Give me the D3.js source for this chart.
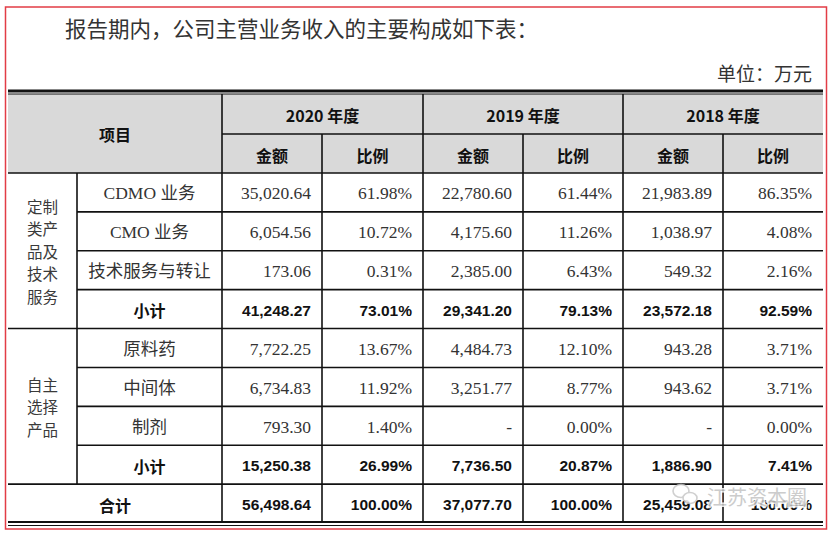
<!DOCTYPE html>
<html><head><meta charset="utf-8">
<script src="https://cdn.jsdelivr.net/npm/d3@7/dist/d3.min.js"></script>
<style>html,body{margin:0;padding:0;background:#fff;}svg{display:block;}</style>
</head><body><div id="chart"></div>
<script>
// ---------- data ----------
const title = "报告期内，公司主营业务收入的主要构成如下表：";
const unitLabel = "单位：万元";
const headerItem = "项目";
const years = ["2020 年度", "2019 年度", "2018 年度"];
const subHeaders = ["金额", "比例"];
const groupLabels = [["定制", "类产", "品及", "技术", "服务"], ["自主", "选择", "产品"]];
const groupSpans = [4, 4];
const items = ["CDMO 业务", "CMO 业务", "技术服务与转让", "小计", "原料药", "中间体", "制剂", "小计", "合计"];
const boldRows = [false, false, false, true, false, false, false, true, true];
const amount2020 = [35020.64, 6054.56, 173.06, 41248.27, 7722.25, 6734.83, 793.30, 15250.38, 56498.64];
const share2020 = [61.98, 10.72, 0.31, 73.01, 13.67, 11.92, 1.40, 26.99, 100.00];
const amount2019 = [22780.60, 4175.60, 2385.00, 29341.20, 4484.73, 3251.77, null, 7736.50, 37077.70];
const share2019 = [61.44, 11.26, 6.43, 79.13, 12.10, 8.77, 0.00, 20.87, 100.00];
const amount2018 = [21983.89, 1038.97, 549.32, 23572.18, 943.28, 943.62, null, 1886.90, 25459.08];
const share2018 = [86.35, 4.08, 2.16, 92.59, 3.71, 3.71, 0.00, 7.41, 100.00];
const watermark = "江苏资本圈";

// ---------- layout ----------
const W = 831, H = 534;
const svg = d3.select("#chart").append("svg").attr("width", W).attr("height", H);
const serif = "'Liberation Serif','Times New Roman','Noto Sans CJK SC',serif";
const sansB = "'Liberation Sans','Noto Sans CJK SC',sans-serif";
const cjk = "'Noto Sans CJK SC',sans-serif";

const colX = [8, 77, 222, 322, 423, 523, 623, 723, 823];
const headTop = 94, headMid = 134, headBot = 173;
const nRows = items.length;
const y = d3.scaleBand().domain(d3.range(nRows)).range([headBot, 523]).paddingInner(0).paddingOuter(0);

const fmtA = d3.format(",.2f");
const fmtP = v => d3.format(".2f")(v) + "%";
const cols = [amount2020, share2020, amount2019, share2019, amount2018, share2018];

// red frame
svg.append("rect").attr("x", 5.5).attr("y", 7).attr("width", 821).attr("height", 522)
  .attr("fill", "none").attr("stroke", "#e23c46").attr("stroke-width", 1.5);

// title & unit
svg.append("text").attr("x", 65).attr("y", 37).text(title)
  .attr("font-family", cjk).attr("font-size", 21.5).attr("fill", "#333");
svg.append("text").attr("x", 812).attr("y", 81).attr("text-anchor", "end").text(unitLabel)
  .attr("font-family", cjk).attr("font-size", 19).attr("fill", "#333");

// header background
svg.append("rect").attr("x", colX[0]).attr("y", headTop).attr("width", colX[8] - colX[0]).attr("height", headBot - headTop)
  .attr("fill", "#d9d9d9");

// header texts
const hdr = svg.append("g").attr("font-family", cjk).attr("font-weight", "bold").attr("font-size", 16).attr("fill", "#111")
  .attr("text-anchor", "middle").attr("dominant-baseline", "central");
hdr.append("text").attr("x", (colX[0] + colX[2]) / 2).attr("y", (headTop + headBot) / 2).text(headerItem);
years.forEach((yr, i) => {
  const x0 = colX[2 + i * 2], x1 = colX[4 + i * 2];
  hdr.append("text").attr("x", (x0 + x1) / 2).attr("y", (headTop + headMid) / 2 + 1).text(yr);
  subHeaders.forEach((s, j) => {
    const a = colX[2 + i * 2 + j], b = colX[3 + i * 2 + j];
    hdr.append("text").attr("x", (a + b) / 2).attr("y", (headMid + headBot) / 2 + 1).text(s);
  });
});

// group labels (vertical stacked)
let start = 0;
groupLabels.forEach((lines, gi) => {
  const top = y(start), bot = y(start + groupSpans[gi] - 1) + y.bandwidth();
  const cy = (top + bot) / 2, lh = 22.6, cx = (colX[0] + colX[1]) / 2;
  lines.forEach((l, k) => {
    svg.append("text").attr("x", cx).attr("y", cy + (k - (lines.length - 1) / 2) * lh)
      .attr("text-anchor", "middle").attr("dominant-baseline", "central")
      .attr("font-family", cjk).attr("font-size", 15.5).attr("fill", "#3a3a3a").text(l);
  });
  start += groupSpans[gi];
});

// item labels
items.forEach((it, r) => {
  const last = r === nRows - 1;
  const cx = last ? (colX[0] + colX[2]) / 2 : (colX[1] + colX[2]) / 2;
  svg.append("text").attr("x", cx).attr("y", y(r) + y.bandwidth() / 2 + 1)
    .attr("text-anchor", "middle").attr("dominant-baseline", "central")
    .attr("font-family", boldRows[r] ? cjk : serif).attr("font-weight", boldRows[r] ? "bold" : "normal")
    .attr("font-size", boldRows[r] ? 16 : 17.5).attr("fill", boldRows[r] ? "#111" : "#333").text(it);
});

// numeric cells
cols.forEach((arr, c) => {
  const isAmt = c % 2 === 0;
  arr.forEach((v, r) => {
    const txt = v === null ? "-" : (isAmt ? fmtA(v) : fmtP(v));
    svg.append("text").attr("x", colX[3 + c] - 11).attr("y", y(r) + y.bandwidth() / 2 + 1)
      .attr("text-anchor", "end").attr("dominant-baseline", "central")
      .attr("font-family", boldRows[r] ? sansB : serif).attr("font-weight", boldRows[r] ? "bold" : "normal")
      .attr("font-size", boldRows[r] ? 15.5 : 17.5).attr("fill", boldRows[r] ? "#111" : "#333").text(txt);
  });
});

// grid lines
const g = svg.append("g").attr("stroke", "#111").attr("stroke-width", 1.6);
const hline = (x1, x2, yy, w) => g.append("line").attr("x1", x1).attr("x2", x2).attr("y1", yy).attr("y2", yy).attr("stroke-width", w || 1.6);
const vline = (xx, y1, y2) => g.append("line").attr("x1", xx).attr("x2", xx).attr("y1", y1).attr("y2", y2);
hline(colX[0], colX[8], 91, 3);
hline(colX[0], colX[8], 94, 1);
hline(colX[2], colX[8], headMid);
hline(colX[0], colX[8], headBot);
d3.range(1, nRows).forEach(r => {
  const yy = y(r);
  const full = (r === groupSpans[0]) || (r === nRows - 1);
  hline(full ? colX[0] : colX[1], colX[8], yy);
});
hline(colX[0], colX[8], 522, 2.2);
hline(colX[0], colX[8], 525.5, 1);
vline(colX[1], headBot, y(nRows - 1));
[2, 4, 6].forEach(i => vline(colX[i], headTop, 522));
[3, 5, 7].forEach(i => vline(colX[i], headMid, 522));

// watermark
const wm = svg.append("g").attr("opacity", 0.85);
wm.append("ellipse").attr("cx", 681).attr("cy", 491).attr("rx", 8).attr("ry", 6.5).attr("fill", "#fff").attr("stroke", "#c8c8c8").attr("stroke-width", 1.6);
wm.append("ellipse").attr("cx", 690).attr("cy", 498).attr("rx", 7).attr("ry", 5.5).attr("fill", "#fff").attr("stroke", "#c8c8c8").attr("stroke-width", 1.6);
wm.append("text").attr("x", 707).attr("y", 496).attr("dominant-baseline", "central")
  .attr("font-family", cjk).attr("font-size", 20).attr("fill", "#c4c4c4")
  .attr("stroke", "#fff").attr("stroke-width", 3).attr("paint-order", "stroke").text(watermark);
</script></body></html>
